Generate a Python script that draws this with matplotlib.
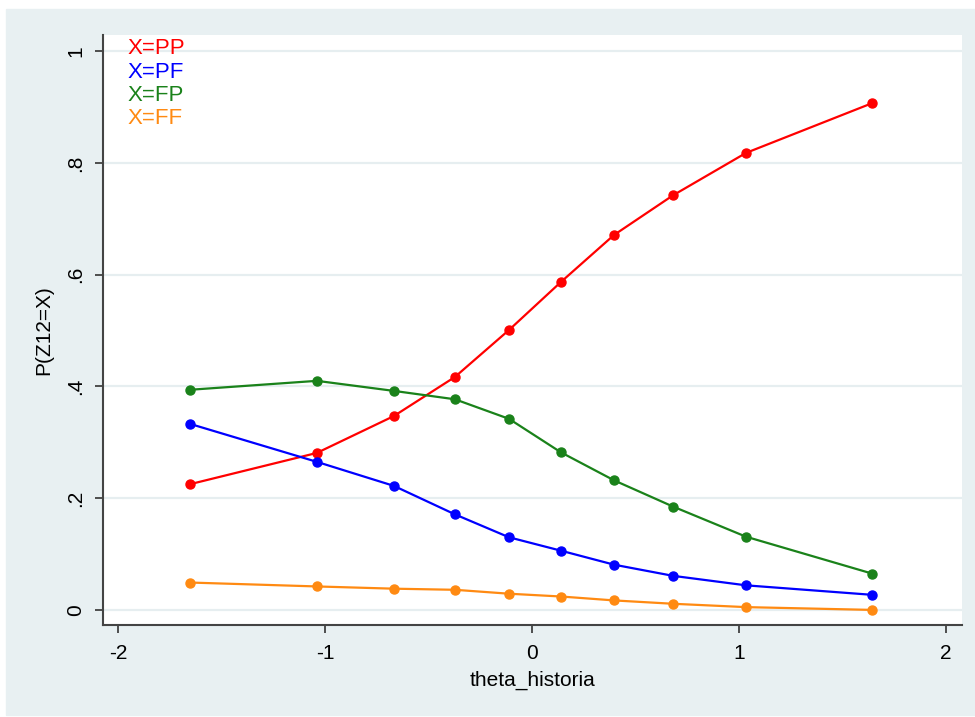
import numpy as np
import matplotlib.pyplot as plt
from matplotlib.patches import Rectangle

plt.rcParams['font.family'] = ['Liberation Sans', 'DejaVu Sans']

theta = [-1.652, -1.039, -0.667, -0.372, -0.111, 0.140, 0.396, 0.681, 1.034, 1.643]
p_pp = [0.225, 0.281, 0.347, 0.417, 0.501, 0.587, 0.671, 0.742, 0.818, 0.907]
p_pf = [0.333, 0.265, 0.222, 0.171, 0.130, 0.106, 0.081, 0.061, 0.044, 0.027]
p_fp = [0.394, 0.410, 0.392, 0.377, 0.342, 0.282, 0.232, 0.185, 0.131, 0.065]
p_ff = [0.049, 0.042, 0.038, 0.036, 0.029, 0.024, 0.017, 0.011, 0.005, 0.000]

labels = ['X=PP', 'X=PF', 'X=FP', 'X=FF']
colors = ['#ff0000', '#0000ff', '#1a821a', '#ff8a12']
yticks = [0, 0.2, 0.4, 0.6, 0.8, 1]
ytick_labels = ['0', '.2', '.4', '.6', '.8', '1']
xticks = [-2, -1, 0, 1, 2]

W, H = 975, 717
fig = plt.figure(figsize=(W / 100, H / 100), dpi=100)
fig.patch.set_facecolor('white')
fig.patches.append(Rectangle((6 / W, 2 / H), 969 / W, 706 / H,
                             transform=fig.transFigure, color='#e8f0f2', zorder=-10))

ax = fig.add_axes([103 / W, 92 / H, 859 / W, 590 / H])
ax.set_facecolor('white')

for ys, c in zip([p_pp, p_pf, p_fp, p_ff], colors):
    ax.plot(theta, ys, color=c, lw=1.6, marker='o', ms=6.5, zorder=3)

ax.set_xlim(-2.072, 2.077)
ax.set_ylim(-0.027, 1.029)
ax.set_yticks(yticks)
ax.set_yticklabels(ytick_labels, rotation=90, va='center')
ax.set_xticks(xticks)
ax.set_xticklabels([str(v) for v in xticks])
ax.tick_params(axis='both', labelsize=15, length=6, width=1.2, color='#333333')
ax.tick_params(axis='x', pad=8)
ax.tick_params(axis='y', pad=7)
ax.grid(axis='y', color='#e6eef0', lw=1.6, zorder=0)
ax.set_axisbelow(True)

for s in ['top', 'right']:
    ax.spines[s].set_visible(False)
for s in ['left', 'bottom']:
    ax.spines[s].set_color('#444444')
    ax.spines[s].set_linewidth(1.5)

ax.set_xlabel('theta_historia', fontsize=15, labelpad=5)
ax.set_ylabel('P(Z12=X)', fontsize=15, labelpad=9)

# key in upper-left corner, coloured text only
for i, (lab, c) in enumerate(zip(labels, colors)):
    ax.text(128 / W, 1 - (49 + 23.3 * i) / H, lab, color=c, fontsize=16,
            transform=fig.transFigure, va='center', ha='left')

fig.savefig('out.png', dpi=100)
